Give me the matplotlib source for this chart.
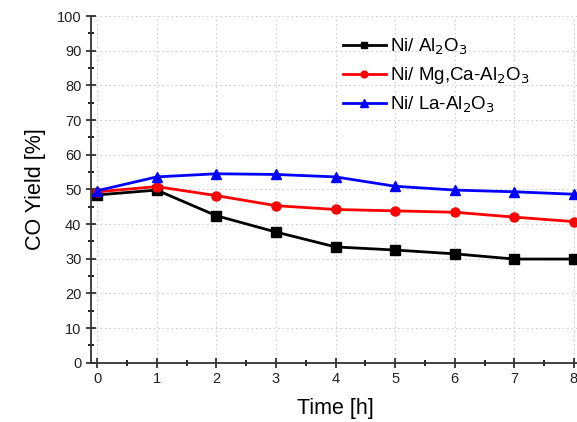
import matplotlib
matplotlib.use("Agg")
import matplotlib.pyplot as plt
from matplotlib.ticker import MultipleLocator

plt.rcParams['font.family'] = ['Liberation Sans', 'DejaVu Sans']

# data
time_h = [0, 1, 2, 3, 4, 5, 6, 7, 8]
ni_al2o3 = [48.4, 49.8, 42.4, 37.7, 33.4, 32.5, 31.4, 29.9, 29.9]
ni_mgca = [49.3, 50.8, 48.2, 45.3, 44.2, 43.8, 43.4, 42.0, 40.7]
ni_la = [49.6, 53.6, 54.5, 54.3, 53.6, 50.9, 49.8, 49.3, 48.6]

labels = ['Ni/ Al$_2$O$_3$', 'Ni/ Mg,Ca-Al$_2$O$_3$', 'Ni/ La-Al$_2$O$_3$']

fig = plt.figure(figsize=(5.77, 4.22), dpi=100)
ax = fig.add_axes([0.158, 0.1405, 0.847, 0.8215])

ax.plot(time_h, ni_al2o3, color='black', marker='s', markersize=6.5, lw=2, label=labels[0])
ax.plot(time_h, ni_mgca, color='red', marker='o', markersize=6.5, lw=2, label=labels[1])
ax.plot(time_h, ni_la, color='blue', marker='^', markersize=7.5, lw=2, label=labels[2])

ax.set_xlim(-0.1, 8.1)
ax.set_ylim(0, 100)
ax.xaxis.set_major_locator(MultipleLocator(1))
ax.xaxis.set_minor_locator(MultipleLocator(0.5))
ax.yaxis.set_major_locator(MultipleLocator(10))
ax.yaxis.set_minor_locator(MultipleLocator(5))
ax.tick_params(which='major', direction='inout', length=7, width=1.2, labelsize=10.5, colors='#222222')
ax.tick_params(which='minor', direction='inout', length=4, width=1.2)

ax.spines['top'].set_visible(False)
ax.spines['right'].set_visible(False)
ax.spines['left'].set_linewidth(1.3)
ax.spines['bottom'].set_linewidth(1.3)
ax.spines['left'].set_color('#333333')
ax.spines['bottom'].set_color('#333333')

ax.grid(True, which='major', linestyle=(0, (1.5, 2.5)), color='#d0d0d0', lw=0.8)

ax.set_xlabel('Time [h]', fontsize=15.5, labelpad=8)
ax.set_ylabel('CO Yield [%]', fontsize=15.5, labelpad=8)

ax.legend(loc='upper left', bbox_to_anchor=(0.48, 0.99), frameon=False, fontsize=13.5,
          handlelength=2.3, labelspacing=0.45, handletextpad=0.25, markerscale=0.75)

fig.savefig('out.png', dpi=100)
